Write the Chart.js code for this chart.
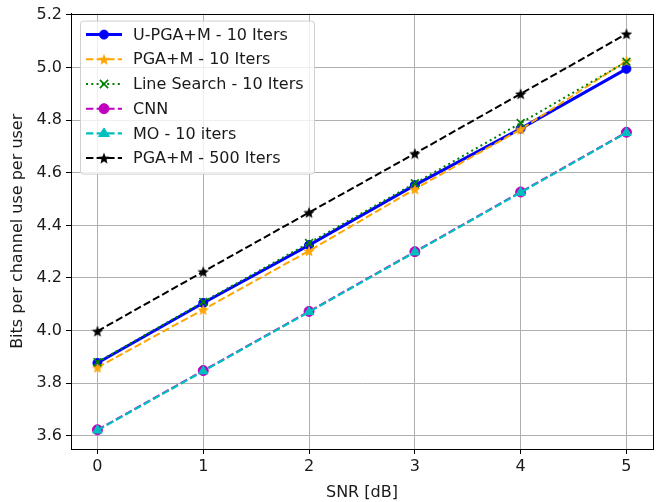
<!DOCTYPE html>
<html>
<head>
<meta charset="utf-8">
<script src="https://cdn.jsdelivr.net/npm/chart.js@4.4.1/dist/chart.umd.min.js"></script>
<style>
  html, body { margin: 0; padding: 0; background: #fff; overflow: hidden; }
  #wrap { width: 660px; height: 502px; }
</style>
</head>
<body>
<div id="wrap"><canvas id="snrChart" width="660" height="502"></canvas></div>
<script>
// SNR points (dB)
var snr = [0, 1, 2, 3, 4, 5];

// rate per algorithm
var uPgaM10   = [3.877, 4.105, 4.325, 4.553, 4.768, 4.995];
var pgaM10    = [3.860, 4.080, 4.303, 4.538, 4.765, 5.025];
var lineSrch  = [3.880, 4.109, 4.333, 4.560, 4.789, 5.022];
var cnn       = [3.623, 3.848, 4.073, 4.300, 4.527, 4.754];
var mo10      = [3.621, 3.846, 4.071, 4.298, 4.525, 4.752];
var pgaM500   = [3.998, 4.224, 4.449, 4.673, 4.900, 5.128];

var xTicks = [0, 1, 2, 3, 4, 5];
var yTicks = [3.6, 3.8, 4.0, 4.2, 4.4, 4.6, 4.8, 5.0, 5.2];

var FONT = "'DejaVu Sans', sans-serif";
var FSIZE = 16;
var TXT = '#1a1a1a';

// filled five point star used as a marker
function starImage(color, size) {
  var c = document.createElement('canvas');
  c.width = size; c.height = size;
  var g = c.getContext('2d');
  var cx = size / 2, cy = size / 2 + 0.6, ro = size / 2, ri = ro * 0.43;
  g.beginPath();
  for (var i = 0; i < 10; i++) {
    var r = i % 2 === 0 ? ro : ri;
    var a = -Math.PI / 2 + i * Math.PI / 5;
    var px = cx + r * Math.cos(a), py = cy + r * Math.sin(a);
    if (i === 0) g.moveTo(px, py); else g.lineTo(px, py);
  }
  g.closePath();
  g.fillStyle = color;
  g.fill();
  return c;
}

function pts(arr) {
  return snr.map(function (x, i) { return { x: x, y: arr[i] }; });
}

function series(label, arr, color, width, dash, marker, radius, order) {
  return {
    label: label,
    data: pts(arr),
    borderColor: color,
    backgroundColor: color,
    borderWidth: width,
    borderDash: dash,
    pointStyle: marker,
    pointRadius: radius,
    pointBackgroundColor: color,
    pointBorderColor: color,
    pointBorderWidth: marker === 'crossRot' ? 1.6 : 1,
    showLine: true,
    fill: false,
    tension: 0,
    order: order
  };
}

var datasets = [
  series('U-PGA+M - 10 Iters', uPgaM10, '#0000ff', 3, [], 'circle', 4.5, 5),
  series('PGA+M - 10 Iters', pgaM10, '#ffa500', 2, [7.4, 3.2], starImage('#ffa500', 12), 6, 4),
  series('Line Search - 10 Iters', lineSrch, '#008000', 2, [2, 3.3], 'crossRot', 5.5, 3),
  series('CNN', cnn, '#bf00bf', 2, [7.4, 3.2], 'circle', 5, 2),
  series('MO - 10 iters', mo10, '#00bfbf', 2.2, [7.4, 3.2], 'triangle', 5.5, 1),
  series('PGA+M - 500 Iters', pgaM500, '#000000', 2, [7.4, 3.2], starImage('#000000', 12), 6, 0)
];

function drawMarker(ctx, ds, x, y) {
  var s = ds.pointStyle, r = ds.pointRadius;
  ctx.save();
  ctx.setLineDash([]);
  ctx.fillStyle = ds.pointBackgroundColor;
  ctx.strokeStyle = ds.pointBorderColor;
  ctx.lineWidth = ds.pointBorderWidth;
  if (s instanceof HTMLCanvasElement) {
    ctx.drawImage(s, x - s.width / 2, y - s.height / 2);
  } else if (s === 'circle') {
    ctx.beginPath(); ctx.arc(x, y, r, 0, Math.PI * 2); ctx.fill(); ctx.stroke();
  } else if (s === 'triangle') {
    ctx.beginPath();
    ctx.moveTo(x, y - r);
    ctx.lineTo(x + r * 0.866 * 1.15, y + r * 0.5 * 1.15);
    ctx.lineTo(x - r * 0.866 * 1.15, y + r * 0.5 * 1.15);
    ctx.closePath(); ctx.fill(); ctx.stroke();
  } else if (s === 'crossRot') {
    var d = r * 0.75;
    ctx.beginPath();
    ctx.moveTo(x - d, y - d); ctx.lineTo(x + d, y + d);
    ctx.moveTo(x + d, y - d); ctx.lineTo(x - d, y + d);
    ctx.stroke();
  }
  ctx.restore();
}

// axes frame on all four sides
var framePlugin = {
  id: 'frame',
  afterDatasetsDraw: function (chart) {
    var a = chart.chartArea, ctx = chart.ctx;
    ctx.save();
    ctx.strokeStyle = '#000';
    ctx.lineWidth = 1;
    ctx.strokeRect(Math.round(a.left) + 0.5, Math.round(a.top) + 0.5,
      Math.round(a.right - a.left), Math.round(a.bottom - a.top));
    ctx.restore();
  }
};

// legend box in the upper left corner of the plot
var legendPlugin = {
  id: 'boxLegend',
  afterDraw: function (chart) {
    var a = chart.chartArea, ctx = chart.ctx;
    var bx = a.left + 9, by = a.top + 7, bw = 234, bh = 153;
    var rowH = 24.7;
    ctx.save();
    ctx.beginPath();
    ctx.roundRect(bx + 0.5, by + 0.5, bw, bh, 3);
    ctx.fillStyle = 'rgba(255,255,255,0.8)';
    ctx.fill();
    ctx.strokeStyle = '#d0d0d0';
    ctx.lineWidth = 1;
    ctx.stroke();
    ctx.font = FSIZE + 'px ' + FONT;
    ctx.textBaseline = 'middle';
    chart.data.datasets.forEach(function (ds, i) {
      var y = by + 14 + i * rowH;
      var x0 = bx + 6, x1 = bx + 42;
      ctx.save();
      ctx.strokeStyle = ds.borderColor;
      ctx.lineWidth = ds.borderWidth;
      ctx.setLineDash(ds.borderDash || []);
      ctx.beginPath(); ctx.moveTo(x0, y); ctx.lineTo(x1, y); ctx.stroke();
      ctx.restore();
      drawMarker(ctx, ds, (x0 + x1) / 2, y);
      ctx.fillStyle = TXT;
      ctx.fillText(ds.label, bx + 53, y + 1);
    });
    ctx.restore();
  }
};

new Chart(document.getElementById('snrChart'), {
  type: 'scatter',
  data: { datasets: datasets },
  options: {
    responsive: false,
    animation: false,
    layout: { padding: { top: 13, right: 0, left: 0, bottom: 0 } },
    plugins: {
      legend: { display: false },
      tooltip: { enabled: false }
    },
    scales: {
      x: {
        type: 'linear',
        min: -0.25,
        max: 5.25,
        afterBuildTicks: function (s) { s.ticks = xTicks.map(function (v) { return { value: v }; }); },
        afterFit: function (s) { s.height = 53; },
        grid: { color: '#b0b0b0', lineWidth: 1, tickLength: 5, tickColor: '#000', tickWidth: 1 },
        border: { color: '#000', width: 1 },
        ticks: {
          color: TXT, font: { family: FONT, size: FSIZE }, padding: 3,
          maxRotation: 0,
          callback: function (v) { return String(v); }
        },
        title: {
          display: true, text: 'SNR [dB]', color: TXT,
          font: { family: FONT, size: FSIZE }, padding: { top: 0, bottom: 0 }
        }
      },
      y: {
        type: 'linear',
        min: 3.55,
        max: 5.205,
        afterBuildTicks: function (s) { s.ticks = yTicks.map(function (v) { return { value: v }; }); },
        afterFit: function (s) { s.width = 71; },
        grid: { color: '#b0b0b0', lineWidth: 1, tickLength: 5, tickColor: '#000', tickWidth: 1 },
        border: { color: '#000', width: 1 },
        ticks: {
          color: TXT, font: { family: FONT, size: FSIZE }, padding: 4,
          callback: function (v) { return v.toFixed(1); }
        },
        title: {
          display: true, text: 'Bits per channel use per user', color: TXT,
          font: { family: FONT, size: FSIZE }, padding: { top: 8, bottom: 0 }
        }
      }
    }
  },
  plugins: [framePlugin, legendPlugin]
});
</script>
</body>
</html>
